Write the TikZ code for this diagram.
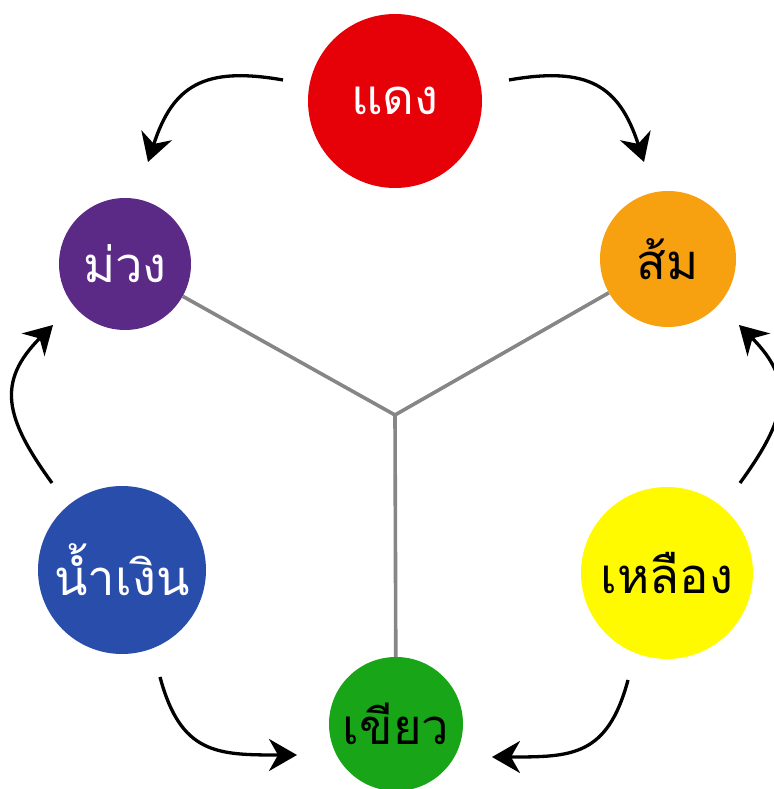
\documentclass[tikz,border=0pt]{standalone}
\usepackage{fontspec}
\newfontfamily\thaifont[Script=Thai]{Loma}
\usetikzlibrary{arrows.meta}
\definecolor{crimson}{RGB}{230, 0, 8}
\definecolor{amethyst}{RGB}{91, 42, 134}
\definecolor{tangerine}{RGB}{247, 160, 16}
\definecolor{cobalt}{RGB}{41, 77, 170}
\definecolor{lemon}{RGB}{255, 250, 0}
\definecolor{emerald}{RGB}{24, 165, 24}
\tikzset{
    hue/.style={circle, inner sep=0pt, font=\thaifont\fontsize{49pt}{52pt}\selectfont},
    spoke/.style={color=gray!95, line width=3.6pt},
    cycle/.style={-{Stealth[length=28pt, width=32pt, inset=9pt]}, line width=3.3pt, looseness=1.3}
}
\begin{document}
\begin{tikzpicture}[x=1pt, y=1pt]
            \useasboundingbox (0,0) rectangle (773,789);
            \node[hue, fill=crimson,   text=white, minimum size=174pt] (daeng)    at (395,688) {แดง};
            \node[hue, fill=amethyst,  text=white, minimum size=132pt] (muang)    at (125,525) {ม่วง};
            \node[hue, fill=tangerine, text=black, minimum size=136pt] (som)      at (668,530) {ส้ม};
            \node[hue, fill=cobalt,    text=white, minimum size=168pt] (namngoen) at (122,219) {น้ำเงิน};
            \node[hue, fill=lemon,     text=black, minimum size=172pt] (lueang)   at (667,216) {เหลือง};
            \node[hue, fill=emerald,   text=black, minimum size=134pt] (khiao)    at (396, 65) {เขียว};
            \coordinate (hub) at (395,374);
            \draw[spoke] (hub) -- (muang);
            \draw[spoke] (hub) -- (som);
            \draw[spoke] (hub) -- (khiao);
            \coordinate (daeng-l) at (283,709);  \coordinate (muang-t)  at (148,627);
            \coordinate (daeng-r) at (509,709);  \coordinate (som-t)    at (644,627);
            \coordinate (namngoen-t) at (52,306);  \coordinate (muang-b) at (53,464);
            \coordinate (lueang-t)   at (740,306); \coordinate (som-b)   at (739,464);
            \coordinate (namngoen-b) at (160,112); \coordinate (khiao-l) at (297,34);
            \coordinate (lueang-b)   at (628,109); \coordinate (khiao-r) at (492,32);
            \draw[cycle] (daeng-l)    to[out=170, in=72]   (muang-t);
            \draw[cycle] (daeng-r)    to[out=10,  in=108]  (som-t);
            \draw[cycle] (namngoen-t) to[out=126, in=225]  (muang-b);
            \draw[cycle] (lueang-t)   to[out=54,  in=-45]  (som-b);
            \draw[cycle] (namngoen-b) to[out=-75, in=180]  (khiao-l);
            \draw[cycle] (lueang-b)   to[out=-105, in=0]   (khiao-r);
        \end{tikzpicture}
\end{document}
